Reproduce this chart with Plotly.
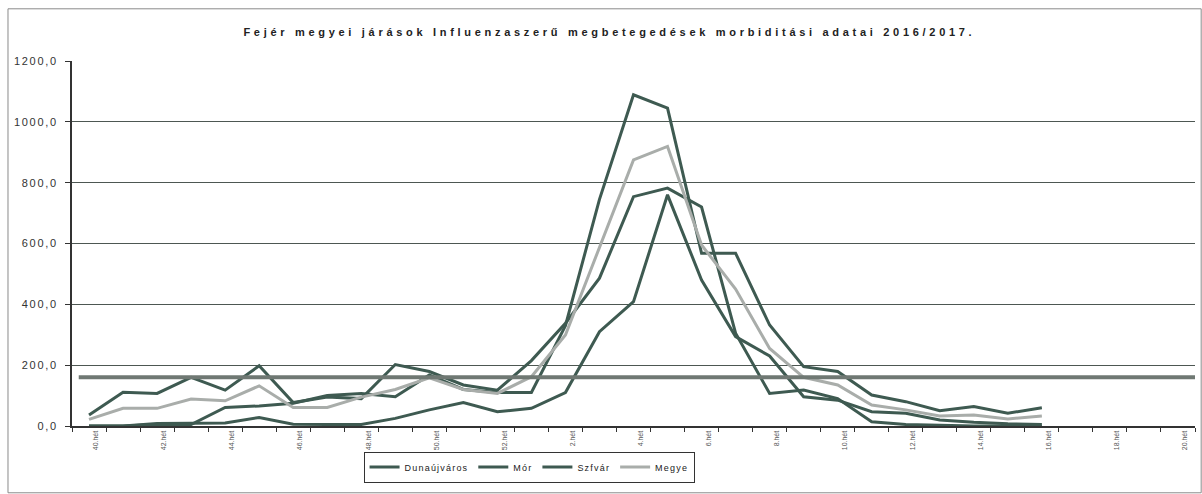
import plotly.graph_objects as go

# ---------------- data ----------------
weeks = ["40", "41", "42", "43", "44", "45", "46", "47", "48", "49", "50", "51", "52",
         "1", "2", "3", "4", "5", "6", "7", "8", "9", "10", "11", "12", "13", "14", "15",
         "16", "17", "18", "19", "20"]
week_labels = ["40.hét", "41.hét", "42.hét", "43.hét", "44.hét", "45.hét", "46.hét", "47.hét",
               "48.hét", "49.hét", "50.hét", "51.hét", "52.hét", "1.hét", "2.hét", "3.hét",
               "4.hét", "5.hét", "6.hét", "7.hét", "8.hét", "9.hét", "10.hét", "11.hét",
               "12.hét", "13.hét", "14.hét", "15.hét", "16.hét", "17.hét", "18.hét",
               "19.hét", "20.hét"]

dunaujvaros = [36, 111, 107, 160, 118, 198, 77, 95, 90, 202, 179, 135, 118, 215, 338, 486,
               754, 782, 720, 305, 107, 118, 90, 14, 5, 2, 0, 0, 0]
mor = [0, 0, 8, 10, 10, 28, 6, 5, 5, 25, 53, 77, 47, 58, 110, 310, 409, 760, 480, 294,
       230, 96, 85, 47, 42, 20, 12, 7, 5]
szfvar = [0, 0, 5, 5, 61, 66, 75, 100, 107, 96, 168, 120, 110, 110, 330, 745, 1089, 1045,
          568, 568, 332, 195, 179, 102, 80, 50, 64, 42, 60]
megye = [22, 58, 58, 89, 83, 132, 61, 61, 95, 120, 158, 120, 107, 162, 299, 590, 875, 919,
         595, 450, 255, 160, 135, 69, 53, 33, 36, 23, 33]

threshold = 160.0

y_tick_vals = [0, 200, 400, 600, 800, 1000, 1200]
y_tick_text = ["0,0", "200,0", "400,0", "600,0", "800,0", "1000,0", "1200,0"]

title_text = "Fejér megyei járások Influenzaszerű megbetegedések morbiditási adatai 2016/2017."

# ---------------- styles ----------------
DARK = "#3e5a51"
LIGHT = "#a9adaa"
GRID = "#4d5752"
FONT = "Liberation Sans, Arial, sans-serif"

fig = go.Figure()
series = [("Dunaújváros", dunaujvaros, DARK),
          ("Mór", mor, DARK),
          ("Szfvár", szfvar, DARK),
          ("Megye", megye, LIGHT)]
for name, vals, col in series:
    fig.add_trace(go.Scatter(x=weeks[:len(vals)], y=vals, mode="lines", name=name,
                             line=dict(color=col, width=3)))

# epidemic threshold
fig.add_shape(type="line", xref="paper", yref="y", x0=0.006, x1=1.0, y0=threshold, y1=threshold,
              line=dict(color="#6f7873", width=4), layer="above")

# outer frame
fig.add_shape(type="rect", xref="paper", yref="paper", x0=-0.057, x1=1.0055, y0=-0.183, y1=1.143,
              line=dict(color="#8a8a8a", width=1), layer="below")

ticktext_x = [lab if i % 2 == 0 else "" for i, lab in enumerate(week_labels)]

fig.update_layout(
    width=1202, height=494,
    margin=dict(l=72, r=7, t=61, b=68),
    paper_bgcolor="white", plot_bgcolor="white",
    font=dict(family=FONT, color="#333"),
    title=dict(text="<b>" + title_text + "</b>", x=0.507, xanchor="center", y=0.935, yanchor="middle",
               font=dict(size=11, color="#222", family=FONT)),
    showlegend=True,
    legend=dict(orientation="h", x=0.407, xanchor="center", y=-0.07, yanchor="top",
                bordercolor="#333", borderwidth=1, bgcolor="rgba(255,255,255,0)",
                font=dict(size=9, color="#222", family=FONT),
                itemwidth=30, tracegroupgap=0),
    xaxis=dict(type="category", categoryorder="array", categoryarray=weeks,
               range=[-0.5, len(weeks) - 0.5],
               tickmode="array", tickvals=weeks, ticktext=ticktext_x,
               tickson="boundaries", ticks="outside", ticklen=4, tickcolor="#333", tickwidth=1,
               tickangle=-90, tickfont=dict(size=7, color="#555"), ticklabelshift=7,
               showline=True, linecolor="#333", linewidth=2, showgrid=False, zeroline=False),
    yaxis=dict(range=[0, 1200], tickmode="array", tickvals=y_tick_vals, ticktext=y_tick_text,
               ticks="outside", ticklen=5, tickcolor="#333", ticklabelstandoff=5,
               tickfont=dict(size=11, color="#333"),
               showline=True, linecolor="#333", linewidth=2,
               showgrid=True, gridcolor=GRID, gridwidth=1.3, zeroline=False),
)

# letter-spaced text as in the original; the legend is re-measured after the style is applied
post = """
var s=document.createElement('style');
s.textContent='html,body{margin:0;padding:0}.gtitle{letter-spacing:3.7px}.legendtext{letter-spacing:1.2px}.ytick text{letter-spacing:1.7px}';
document.head.appendChild(s);
var gd=document.getElementById('{plot_id}');
gd.layout.legend.font.size = 9.01;
Plotly.newPlot(gd, gd.data, gd.layout, {displayModeBar: false, staticPlot: true});
"""
fig.write_html("out.html", post_script=post, config={"displayModeBar": False, "staticPlot": True})
